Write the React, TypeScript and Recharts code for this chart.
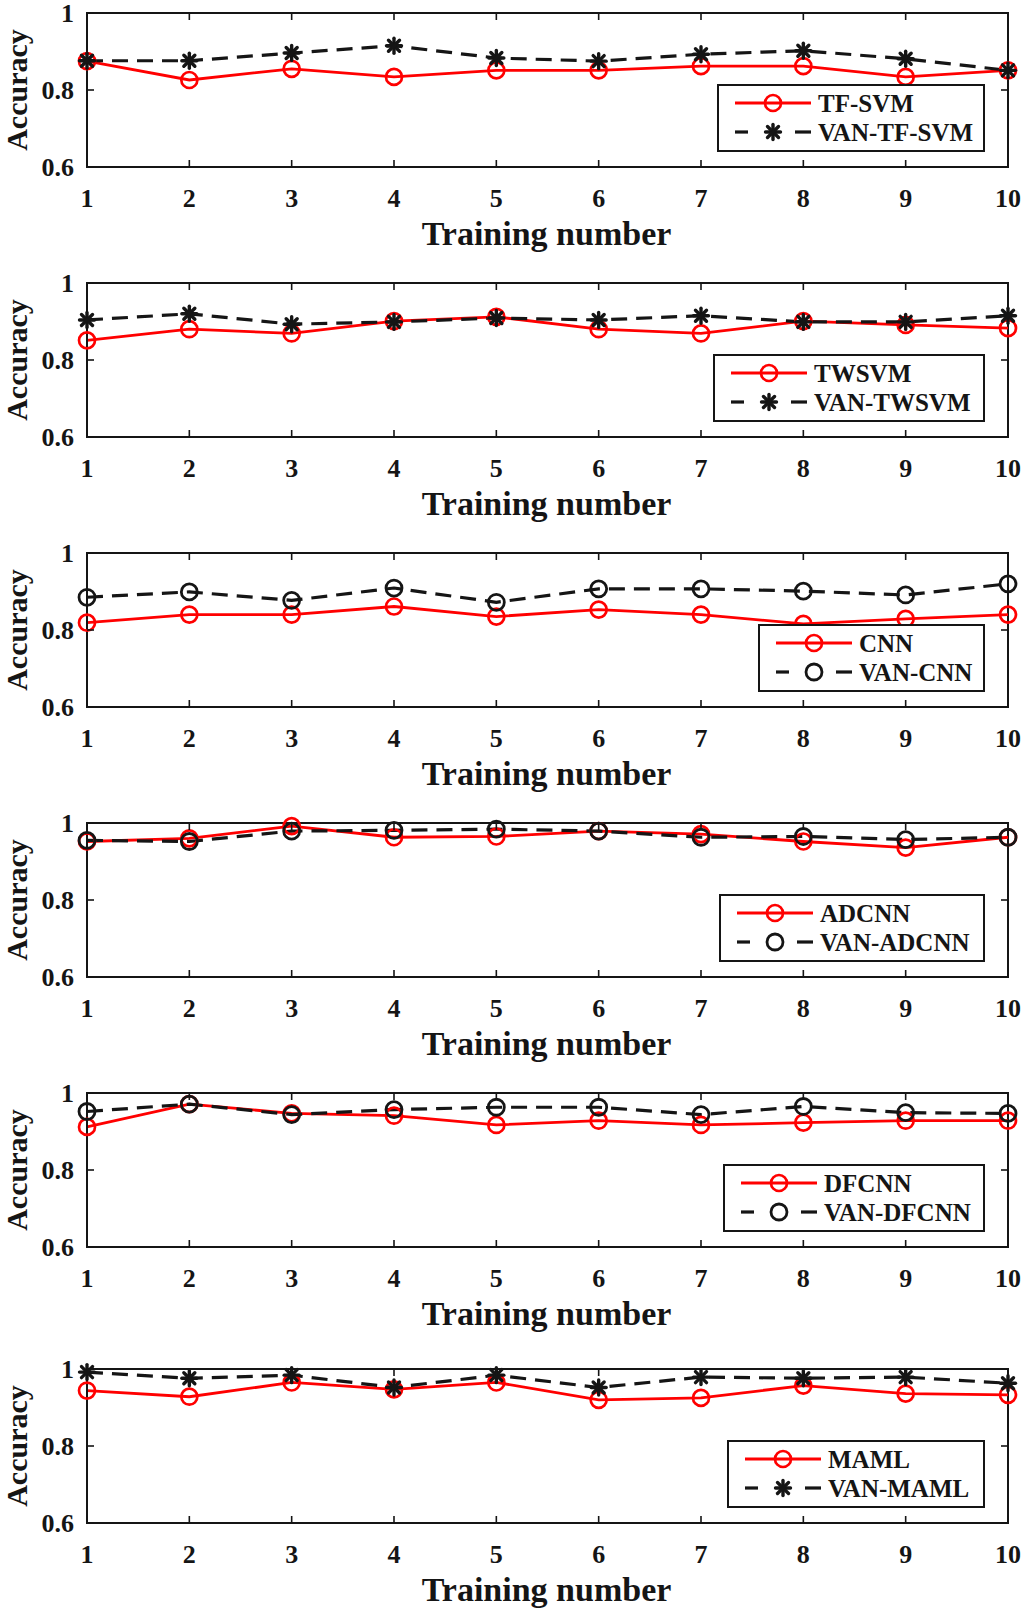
import React from 'react';
import { LineChart, Line, XAxis, YAxis, ReferenceArea } from 'recharts';

// x values (training runs) and y tick values
const TRAINING_NUMBER = [1, 2, 3, 4, 5, 6, 7, 8, 9, 10];
const ACC_TICKS = [0.6, 0.8, 1];

// accuracies, one pair per panel
const TF_SVM = [0.875, 0.826, 0.855, 0.834, 0.851, 0.851, 0.862, 0.862, 0.834, 0.851];
const VAN_TF_SVM = [0.876, 0.876, 0.896, 0.915, 0.883, 0.875, 0.893, 0.902, 0.881, 0.851];
const TWSVM = [0.851, 0.88, 0.869, 0.901, 0.912, 0.88, 0.869, 0.901, 0.891, 0.883];
const VAN_TWSVM = [0.904, 0.92, 0.893, 0.899, 0.909, 0.904, 0.915, 0.899, 0.899, 0.915];
const CNN = [0.819, 0.84, 0.84, 0.861, 0.835, 0.853, 0.84, 0.816, 0.829, 0.84];
const VAN_CNN = [0.885, 0.899, 0.877, 0.909, 0.872, 0.907, 0.907, 0.901, 0.891, 0.92];
const ADCNN = [0.952, 0.96, 0.992, 0.963, 0.965, 0.979, 0.971, 0.952, 0.936, 0.963];
const VAN_ADCNN = [0.955, 0.952, 0.979, 0.981, 0.984, 0.979, 0.963, 0.965, 0.957, 0.963];
const DFCNN = [0.912, 0.971, 0.947, 0.941, 0.917, 0.928, 0.917, 0.923, 0.928, 0.928];
const VAN_DFCNN = [0.952, 0.971, 0.944, 0.957, 0.963, 0.963, 0.944, 0.965, 0.949, 0.947];
const MAML = [0.944, 0.928, 0.965, 0.947, 0.965, 0.92, 0.925, 0.957, 0.936, 0.933];
const VAN_MAML = [0.992, 0.976, 0.984, 0.952, 0.984, 0.952, 0.979, 0.976, 0.979, 0.963];

type MarkerKind = 'star' | 'circle';

const PANELS: { name: string; base: number[]; van: number[]; marker: MarkerKind; legendLeft: number }[] = [
  { name: 'TF-SVM', base: TF_SVM, van: VAN_TF_SVM, marker: 'star', legendLeft: 717 },
  { name: 'TWSVM', base: TWSVM, van: VAN_TWSVM, marker: 'star', legendLeft: 713 },
  { name: 'CNN', base: CNN, van: VAN_CNN, marker: 'circle', legendLeft: 758 },
  { name: 'ADCNN', base: ADCNN, van: VAN_ADCNN, marker: 'circle', legendLeft: 719 },
  { name: 'DFCNN', base: DFCNN, van: VAN_DFCNN, marker: 'circle', legendLeft: 723 },
  { name: 'MAML', base: MAML, van: VAN_MAML, marker: 'star', legendLeft: 727 },
];

const W = 1025;
const PANEL_H = 270;
const PLOT_LEFT = 87;
const PLOT_RIGHT = 1008;
const PLOT_H = 154;
const TICK_LEN = 7;
const LEGEND_RIGHT = 985;
const LEGEND_H = 68;

const RED = '#ff0000';
const INK = '#151515';
const FONT = '"Liberation Serif", "Times New Roman", serif';

const RedCircle = ({ cx, cy }: any) =>
  cx == null ? null : <circle cx={cx} cy={cy} r={8} fill="none" stroke={RED} strokeWidth={2.7} />;

const BlackCircle = ({ cx, cy }: any) =>
  cx == null ? null : <circle cx={cx} cy={cy} r={8} fill="none" stroke={INK} strokeWidth={2.8} />;

const BlackStar = ({ cx, cy }: any) => {
  if (cx == null) return null;
  const s = 7.5;
  const d = 5.5;
  return (
    <g stroke={INK} strokeWidth={3.4} strokeLinecap="round">
      <line x1={cx} y1={cy - s} x2={cx} y2={cy + s} />
      <line x1={cx - s} y1={cy} x2={cx + s} y2={cy} />
      <line x1={cx - d} y1={cy - d} x2={cx + d} y2={cy + d} />
      <line x1={cx - d} y1={cy + d} x2={cx + d} y2={cy - d} />
    </g>
  );
};

const LegendBox = ({ left, top, name, marker }: { left: number; top: number; name: string; marker: MarkerKind }) => {
  const w = LEGEND_RIGHT - left;
  const Marker = marker === 'star' ? BlackStar : BlackCircle;
  const r1 = 19;
  const r2 = 48;
  return (
    <svg style={{ position: 'absolute', left, top }} width={w} height={LEGEND_H}>
      <rect x={1} y={1} width={w - 2} height={LEGEND_H - 2} fill="#fff" stroke={INK} strokeWidth={2} />
      <line x1={18} x2={94} y1={r1} y2={r1} stroke={RED} strokeWidth={3} />
      <RedCircle cx={56} cy={r1} />
      <line x1={18} x2={31} y1={r2} y2={r2} stroke={INK} strokeWidth={3.2} />
      <line x1={78} x2={94} y1={r2} y2={r2} stroke={INK} strokeWidth={3.2} />
      <Marker cx={56} cy={r2} />
      <g fontFamily={FONT} fontWeight="bold" fontSize={25} fill={INK}>
        <text x={101} y={r1 + 9}>{name}</text>
        <text x={101} y={r2 + 9}>{'VAN-' + name}</text>
      </g>
    </svg>
  );
};

const Panel = ({ panel, topPad }: { panel: (typeof PANELS)[number]; topPad: number }) => {
  const data = TRAINING_NUMBER.map((n, i) => ({ n, base: panel.base[i], van: panel.van[i] }));
  const plotTop = topPad;
  const plotBottom = topPad + PLOT_H;
  const height = topPad + PANEL_H - 13;
  const VanMarker = panel.marker === 'star' ? BlackStar : BlackCircle;

  // bottom axis tick: label plus inward tick marks on the bottom and top edges
  const bottomTick = (p: any) => (
    <g key={`b-${p.index}`}>
      <line x1={p.x} x2={p.x} y1={plotBottom} y2={plotBottom - TICK_LEN} stroke={INK} strokeWidth={1.6} />
      <line x1={p.x} x2={p.x} y1={plotTop} y2={plotTop + TICK_LEN} stroke={INK} strokeWidth={1.6} />
      <text x={p.x} y={plotBottom + 40} textAnchor="middle" fontFamily={FONT} fontWeight="bold" fontSize={26} fill={INK}>
        {p.payload.value}
      </text>
    </g>
  );
  // left axis tick: label plus inward tick marks on the left and right edges
  const leftTick = (p: any) => (
    <g key={`l-${p.index}`}>
      <line x1={PLOT_LEFT} x2={PLOT_LEFT + TICK_LEN} y1={p.y} y2={p.y} stroke={INK} strokeWidth={1.6} />
      <line x1={PLOT_RIGHT} x2={PLOT_RIGHT - TICK_LEN} y1={p.y} y2={p.y} stroke={INK} strokeWidth={1.6} />
      <text x={74} y={p.y + 9} textAnchor="end" fontFamily={FONT} fontWeight="bold" fontSize={26} fill={INK}>
        {p.payload.value}
      </text>
    </g>
  );

  return (
    <div style={{ position: 'relative', width: W, height }}>
      <LineChart
        width={W}
        height={height}
        data={data}
        margin={{ top: topPad, right: W - PLOT_RIGHT, bottom: 0, left: 0 }}
      >
        <XAxis
          dataKey="n"
          type="number"
          domain={[1, 10]}
          ticks={TRAINING_NUMBER}
          height={height - plotBottom}
          axisLine={{ stroke: INK, strokeWidth: 2 }}
          tickLine={false}
          tick={bottomTick}
          interval={0}
          label={{
            value: 'Training number',
            content: () => (
              <text x={(PLOT_LEFT + PLOT_RIGHT) / 2 - 1} y={plotBottom + 78} textAnchor="middle" fontFamily={FONT} fontWeight="bold" fontSize={34} fill={INK}>
                Training number
              </text>
            ),
          }}
        />
        <YAxis
          type="number"
          domain={[0.6, 1]}
          ticks={ACC_TICKS}
          width={PLOT_LEFT}
          axisLine={{ stroke: INK, strokeWidth: 2 }}
          tickLine={false}
          tick={leftTick}
          interval={0}
          label={{
            value: 'Accuracy',
            content: () => (
              <text transform={`translate(27, ${plotTop + PLOT_H / 2}) rotate(-90)`} textAnchor="middle" fontFamily={FONT} fontWeight="bold" fontSize={30} fill={INK}>
                Accuracy
              </text>
            ),
          }}
        />
        <ReferenceArea x1={1} x2={10} y1={0.6} y2={1} fill="none" stroke={INK} strokeWidth={2} ifOverflow="visible" />
        <Line
          type="linear"
          dataKey="base"
          stroke={RED}
          strokeWidth={2.8}
          dot={(p: any) => <RedCircle key={`rd-${p.index}`} {...p} />}
          activeDot={false}
          isAnimationActive={false}
        />
        <Line
          type="linear"
          dataKey="van"
          stroke={INK}
          strokeWidth={3.2}
          strokeDasharray="16 9"
          dot={(p: any) => <VanMarker key={`vd-${p.index}`} {...p} />}
          activeDot={false}
          isAnimationActive={false}
        />
      </LineChart>
      <LegendBox left={panel.legendLeft} top={plotTop + 71} name={panel.name} marker={panel.marker} />
    </div>
  );
}

export default function App() {
  return (
    <div style={{ position: 'absolute', left: 0, top: 0, width: W, background: '#fff' }}>
      {PANELS.map((p, i) => (
        <Panel key={p.name} panel={p} topPad={i === PANELS.length - 1 ? 19 : 13} />
      ))}
    </div>
  );
}
